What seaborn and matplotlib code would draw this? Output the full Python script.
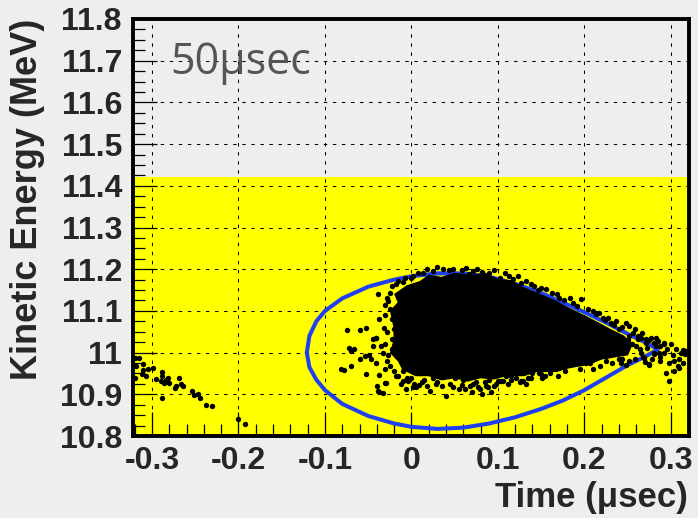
import matplotlib
matplotlib.use("Agg")
import matplotlib.pyplot as plt
import matplotlib.ticker as mticker
import seaborn as sns

# --- data ---
# left tail of particles (time in usec, kinetic energy in MeV)
tail_t = [-0.320, -0.315, -0.318, -0.310, -0.311, -0.305, -0.299, -0.312, -0.307, -0.320,
          -0.295, -0.289, -0.288, -0.290, -0.286, -0.284, -0.281, -0.280, -0.274, -0.272,
          -0.269, -0.266, -0.264, -0.254, -0.251, -0.247, -0.244, -0.288, -0.237, -0.231,
          -0.201, -0.193]
tail_e = [10.988, 10.988, 10.967, 10.972, 10.959, 10.960, 10.962, 10.948, 10.944, 10.938,
          10.936, 10.954, 10.944, 10.932, 10.928, 10.934, 10.940, 10.928, 10.914, 10.920,
          10.938, 10.924, 10.920, 10.908, 10.898, 10.900, 10.891, 10.891, 10.875, 10.871,
          10.840, 10.829]

# loose particles around the bunch edges
halo_t = [-0.074, -0.060, -0.053, -0.037, -0.039, -0.072, -0.070, -0.066, -0.081, -0.078,
          -0.070, -0.059, -0.054, -0.049, -0.045, -0.041, -0.035, -0.047, -0.041, -0.052,
          -0.037, -0.029, -0.040, -0.037, -0.033, -0.006, 0.005, 0.021, 0.040, 0.059,
          0.079, 0.092, 0.100, -0.027, -0.022, -0.025, -0.018, -0.010, -0.023, -0.025,
          -0.027, -0.025, -0.022, -0.020, -0.022, -0.045, -0.041, -0.031, -0.039, -0.004,
          0.002, 0.009,
          # top edge
          -0.016, -0.008, 0.002, 0.013, 0.025, 0.036, 0.048, 0.059, 0.071, 0.082,
          0.055, 0.067, 0.090, 0.102, 0.113, 0.123, 0.127, 0.142, 0.150, 0.156,
          0.162, 0.171, 0.183, 0.181, 0.187, 0.196, 0.217, 0.227, 0.237, 0.248,
          0.258, 0.267, 0.277, 0.285, 0.292, 0.300, 0.306, 0.314, 0.210, 0.221,
          0.231, 0.252, 0.271, 0.283, 0.240, 0.262,
          # right tip
          0.294, 0.298, 0.304, 0.308, 0.314, 0.310, 0.316, 0.312, 0.304, 0.292,
          0.287, 0.281, 0.275, 0.269, 0.264, 0.252, 0.242, 0.240, 0.202, 0.236,
          0.229, 0.271, 0.281, 0.292, 0.283, 0.262, 0.252, 0.318, 0.310, 0.244,
          0.225, 0.275,
          # bottom edge
          0.055, 0.071, 0.086, 0.106, 0.129, 0.109, 0.148, 0.167, 0.186, 0.206,
          0.225, 0.077, 0.088, 0.096, 0.104, 0.121, 0.127, 0.150, 0.151, 0.160,
          0.140, 0.171, 0.183, 0.162, 0.000, 0.015, 0.030, 0.045, 0.060, 0.075,
          0.090, 0.115, 0.135, -0.010, 0.010, 0.025, 0.050]
halo_e = [11.054, 11.054, 11.060, 11.080, 11.141, 11.011, 11.004, 11.008, 10.960, 10.959,
          10.967, 10.984, 10.992, 10.994, 11.016, 11.034, 11.016, 10.984, 10.976, 10.948,
          10.946, 10.928, 10.920, 10.906, 10.903, 10.912, 10.917, 10.908, 10.896, 10.922,
          10.912, 10.906, 10.932, 10.994, 11.008, 10.968, 10.944, 10.932, 11.160, 11.144,
          11.124, 11.104, 11.080, 11.056, 11.032, 11.032, 11.036, 10.928, 10.908, 10.932,
          10.917, 10.922,
          11.172, 11.180, 11.184, 11.192, 11.196, 11.200, 11.201, 11.198, 11.196, 11.193,
          11.176, 11.188, 11.192, 11.180, 11.184, 11.184, 11.168, 11.160, 11.156, 11.152,
          11.144, 11.132, 11.132, 11.100, 11.120, 11.128, 11.096, 11.084, 11.076, 11.072,
          11.056, 11.048, 11.036, 11.028, 11.020, 11.020, 11.008, 11.006, 11.100, 11.084,
          11.072, 11.064, 11.032, 11.016, 11.056, 11.040,
          10.950, 10.931, 10.956, 10.968, 10.976, 10.984, 10.996, 11.000, 10.980, 11.000,
          10.980, 10.996, 10.970, 10.988, 11.008, 10.980, 10.976, 10.984, 10.976, 11.000,
          11.008, 11.024, 11.024, 11.024, 11.036, 11.032, 11.040, 11.004, 10.964, 10.984,
          10.992, 10.972,
          10.912, 10.924, 10.920, 10.932, 10.932, 10.944, 10.952, 10.960, 10.972, 10.976,
          10.980, 10.917, 10.917, 10.920, 10.932, 10.940, 10.932, 10.948, 10.938, 10.952,
          10.952, 10.964, 10.972, 10.972, 10.940, 10.935, 10.930, 10.925, 10.935, 10.930,
          10.935, 10.945, 10.940, 10.955, 10.950, 10.940, 10.940]

# crowded particles just outside the saturated core
edge_t = [-0.030, -0.032, -0.028, -0.030, -0.033, -0.028, -0.030, -0.020, -0.015, -0.005,
          -0.028, -0.030, -0.018, -0.010, 0.000, 0.008, 0.018, 0.030, 0.043, 0.063,
          0.076, 0.095, 0.108, 0.118, 0.133, 0.138, 0.146, 0.168, 0.176, 0.192,
          0.204, 0.214, 0.224, 0.234, 0.244, 0.256, 0.266, 0.275, 0.288, 0.296,
          0.302, 0.298, 0.288, 0.270, 0.258, 0.248, 0.232, 0.218, 0.210, 0.195,
          0.178, 0.170, 0.155, 0.138, 0.125, 0.112, 0.098, 0.085, 0.068, 0.062,
          0.048, 0.035, 0.028, 0.012, 0.018, 0.003, -0.012, 0.115, 0.132, 0.070,
          0.082, 0.255, 0.265, 0.245, 0.235, 0.225, 0.260, 0.272, 0.280, 0.250,
          0.215, 0.220, 0.268, 0.278, 0.286, 0.240, 0.230]
edge_e = [11.090, 11.060, 11.050, 11.020, 11.000, 10.980, 10.960, 10.955, 10.945, 10.940,
          11.130, 11.115, 11.165, 11.170, 11.178, 11.190, 11.200, 11.205, 11.197, 11.204,
          11.200, 11.198, 11.190, 11.176, 11.172, 11.165, 11.150, 11.140, 11.125, 11.112,
          11.104, 11.092, 11.078, 11.066, 11.062, 11.048, 11.036, 11.030, 11.015, 11.008,
          10.995, 10.975, 10.990, 10.978, 10.985, 10.970, 10.975, 10.968, 10.960, 10.960,
          10.955, 10.945, 10.945, 10.938, 10.930, 10.925, 10.925, 10.930, 10.920, 10.912,
          10.918, 10.920, 10.925, 10.930, 10.920, 10.925, 10.925, 10.935, 10.925, 10.905,
          10.900, 11.020, 11.000, 11.000, 11.030, 11.050, 11.015, 11.012, 11.000, 11.030,
          11.010, 11.030, 10.990, 10.985, 11.000, 11.015, 10.995]

# outline of the saturated (all black) part of the bunch
core_t = [-0.020, -0.024, -0.015, -0.019, -0.005, 0.010, 0.020, 0.035, 0.050, 0.070,
          0.085, 0.100, 0.115, 0.130, 0.150, 0.165, 0.180, 0.200, 0.215, 0.230,
          0.245, 0.255, 0.250, 0.235, 0.220, 0.205, 0.185, 0.165, 0.145, 0.130,
          0.110, 0.095, 0.080, 0.065, 0.050, 0.035, 0.020, 0.005, -0.010, -0.015,
          -0.024, -0.020]
core_e = [11.060, 11.100, 11.120, 11.140, 11.160, 11.170, 11.185, 11.180, 11.190, 11.185,
          11.190, 11.175, 11.172, 11.155, 11.138, 11.125, 11.108, 11.088, 11.072, 11.055,
          11.040, 11.020, 10.995, 10.990, 10.985, 10.972, 10.965, 10.955, 10.955, 10.945,
          10.945, 10.937, 10.940, 10.932, 10.940, 10.935, 10.945, 10.945, 10.960, 10.980,
          11.000, 11.030]

# separatrix (closed bucket boundary)
sep_t = [-0.121, -0.118, -0.110, -0.100, -0.080, -0.050, -0.020, 0.000, 0.030, 0.060,
         0.090, 0.120, 0.150, 0.175, 0.200, 0.225, 0.250, 0.270, 0.285,
         0.270, 0.250, 0.225, 0.200, 0.175, 0.150, 0.120, 0.090, 0.060, 0.030,
         0.000, -0.020, -0.050, -0.080, -0.100, -0.110, -0.118, -0.121]
sep_e = [11.000, 11.040, 11.075, 11.100, 11.130, 11.158, 11.175, 11.183, 11.190, 11.190,
         11.182, 11.165, 11.143, 11.120, 11.097, 11.072, 11.045, 11.025, 11.008,
         10.990, 10.970, 10.940, 10.910, 10.885, 10.865, 10.845, 10.830, 10.820, 10.817,
         10.822, 10.830, 10.848, 10.877, 10.910, 10.935, 10.965, 11.000]

accept_lo, accept_hi = 10.8, 11.42
xticks = [-0.3, -0.2, -0.1, 0.0, 0.1, 0.2, 0.3]
yticks = [10.8, 10.9, 11.0, 11.1, 11.2, 11.3, 11.4, 11.5, 11.6, 11.7, 11.8]

BG = "#eeeeee"
BLUE = "#1f3ff5"

sns.set_style("ticks")
plt.rcParams["font.family"] = ["Liberation Sans", "DejaVu Sans"]
plt.rcParams["axes.unicode_minus"] = False

fig = plt.figure(figsize=(6.98, 5.18), dpi=100, facecolor=BG)
ax = fig.add_axes([133 / 698, 1 - 436 / 518, 556 / 698, 417 / 518])
ax.set_facecolor(BG)

# acceptance band
ax.axhspan(accept_lo, accept_hi, color="#ffff00", lw=0, zorder=0)

ax.set_xlim(-0.322, 0.321)
ax.set_ylim(10.8, 11.8)

sns.lineplot(x=sep_t, y=sep_e, sort=False, estimator=None, color=BLUE,
             lw=2.9, ax=ax, zorder=3)
ax.fill(core_t, core_e, color="black", lw=1.0, zorder=4)
sns.scatterplot(x=tail_t + halo_t + edge_t, y=tail_e + halo_e + edge_e,
                color="black", s=15, linewidth=0, ax=ax, zorder=5)

# axes, ticks, grid
ax.set_xticks(xticks)
ax.set_yticks(yticks)
ax.xaxis.set_minor_locator(mticker.MultipleLocator(0.02))
ax.yaxis.set_minor_locator(mticker.MultipleLocator(0.025))
fmt = mticker.FuncFormatter(lambda v, p: f"{round(v, 3) + 0.0:g}")
ax.xaxis.set_major_formatter(fmt)
ax.yaxis.set_major_formatter(fmt)
ax.tick_params(which="major", direction="in", length=17, width=0.9, color="black",
               labelsize=23, top=False, right=False)
ax.tick_params(which="minor", direction="in", length=8.5, width=0.9, color="black",
               top=False, right=False)
ax.tick_params(axis="y", pad=8)
ax.tick_params(axis="x", pad=7)
for lab in ax.get_xticklabels() + ax.get_yticklabels():
    lab.set_fontweight("bold")

ax.grid(True, which="major", color="black", lw=0.75, linestyle=(0, (3.3, 5.4)))
ax.set_axisbelow(False)
for gl in ax.get_xgridlines() + ax.get_ygridlines():
    gl.set_zorder(2)
for sp in ax.spines.values():
    sp.set_visible(True)
    sp.set_linewidth(2.8)
    sp.set_color("black")
    sp.set_zorder(6)

ax.set_xlabel("")
ax.set_ylabel("")
fig.text(688 / 698, 1 - 507 / 518, "Time (μsec)", ha="right", va="baseline",
         fontsize=25, fontweight="bold")
fig.text(28 / 698, 1 - 19 / 518, "Kinetic Energy (MeV)", ha="center", va="top",
         rotation=90, fontsize=26, fontweight="bold")
fig.text(170 / 698, 1 - 74 / 518, "50μsec", ha="left", va="baseline", fontsize=31,
         color="#555555", family=["Open Sans", "DejaVu Sans"])

fig.savefig("out.png", dpi=100, facecolor=BG)
